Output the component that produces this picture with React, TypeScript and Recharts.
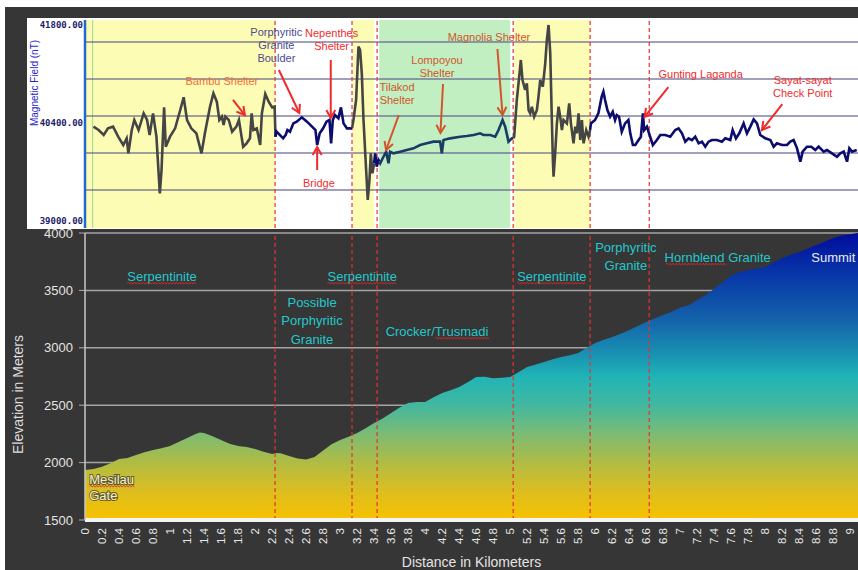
import React from 'react';
import {
  LineChart, Line, AreaChart, Area, XAxis, YAxis, CartesianGrid,
  ReferenceArea, ReferenceLine, ReferenceDot,
} from 'recharts';

const FONT = '"Liberation Sans", Arial, sans-serif';

// ---------- Elevation profile ----------
const distKm = [0, 0.1, 0.2, 0.3, 0.4, 0.5, 0.6, 0.7, 0.8, 0.9, 1.0, 1.1, 1.2, 1.3, 1.35, 1.4, 1.5, 1.6, 1.7, 1.8, 1.9, 2.0, 2.1, 2.2, 2.25, 2.3, 2.4, 2.5, 2.6, 2.7, 2.8, 2.9, 3.0, 3.1, 3.2, 3.3, 3.4, 3.5, 3.6, 3.7, 3.8, 3.9, 4.0, 4.1, 4.2, 4.3, 4.4, 4.5, 4.6, 4.7, 4.8, 4.9, 5.0, 5.1, 5.2, 5.3, 5.4, 5.5, 5.6, 5.7, 5.8, 5.9, 6.0, 6.1, 6.2, 6.3, 6.4, 6.5, 6.6, 6.7, 6.8, 6.9, 7.0, 7.1, 7.2, 7.3, 7.4, 7.5, 7.6, 7.7, 7.8, 7.9, 8.0, 8.1, 8.2, 8.3, 8.4, 8.5, 8.6, 8.7, 8.8, 8.9, 9.0, 9.09];
const elevM = [1935, 1945, 1964, 1995, 2031, 2040, 2066, 2090, 2110, 2125, 2145, 2180, 2214, 2250, 2262, 2258, 2230, 2197, 2165, 2145, 2135, 2118, 2095, 2075, 2084, 2082, 2057, 2035, 2028, 2049, 2105, 2160, 2197, 2225, 2258, 2300, 2345, 2385, 2432, 2480, 2519, 2528, 2528, 2570, 2606, 2630, 2658, 2700, 2745, 2748, 2735, 2740, 2745, 2790, 2832, 2855, 2876, 2900, 2920, 2935, 2954, 3000, 3041, 3070, 3094, 3122, 3154, 3190, 3224, 3255, 3285, 3315, 3350, 3370, 3416, 3460, 3515, 3570, 3630, 3660, 3677, 3690, 3704, 3745, 3782, 3810, 3834, 3865, 3895, 3925, 3956, 3978, 3990, 4000];
const distTicks = [0, 0.2, 0.4, 0.6, 0.8, 1, 1.2, 1.4, 1.6, 1.8, 2, 2.2, 2.4, 2.6, 2.8, 3, 3.2, 3.4, 3.6, 3.8, 4, 4.2, 4.4, 4.6, 4.8, 5, 5.2, 5.4, 5.6, 5.8, 6, 6.2, 6.4, 6.6, 6.8, 7, 7.2, 7.4, 7.6, 7.8, 8, 8.2, 8.4, 8.6, 8.8, 9];
const elevTicks = [1500, 2000, 2500, 3000, 3500, 4000];

// ---------- Magnetic field trace (km, nT), split by zone ----------
const magSerp1: [number, number][] = [[0.10, 40347], [0.16, 40299], [0.22, 40228], [0.27, 40323], [0.33, 40347], [0.39, 40204], [0.45, 40085], [0.49, 40180], [0.51, 39966], [0.55, 40299], [0.58, 40442], [0.63, 40299], [0.69, 40537], [0.73, 40442], [0.76, 40228], [0.80, 40537], [0.84, 40204], [0.88, 39395], [0.90, 39728], [0.93, 40623], [0.95, 40061], [1.00, 40204], [1.06, 40323], [1.12, 40585], [1.16, 40766], [1.20, 40442], [1.25, 40323], [1.31, 40252], [1.37, 39966], [1.41, 40252], [1.47, 40632], [1.51, 40823], [1.55, 40704], [1.58, 40442], [1.61, 40490], [1.63, 40371], [1.65, 40490], [1.69, 40442], [1.73, 40275], [1.78, 40347], [1.81, 40442], [1.86, 40061], [1.90, 40109], [1.94, 40180], [1.96, 40537], [1.98, 40299], [2.02, 40323], [2.06, 40085], [2.08, 40537], [2.12, 40813], [2.16, 40704], [2.20, 40623], [2.23, 40632], [2.24, 40204]];
const magGranite1: [number, number][] = [[2.24, 40204], [2.25, 40280], [2.29, 40230], [2.33, 40180], [2.36, 40230], [2.38, 40299], [2.41, 40275], [2.45, 40394], [2.49, 40418], [2.55, 40480], [2.61, 40418], [2.67, 40347], [2.71, 40299], [2.73, 40085], [2.76, 40252], [2.80, 40323], [2.84, 40418], [2.875, 40442], [2.894, 40109], [2.914, 40442], [2.94, 40513], [2.98, 40466], [3.01, 40623], [3.04, 40394], [3.08, 40323], [3.14, 40323]];
const magSerp2: [number, number][] = [[3.14, 40323], [3.157, 40442], [3.188, 40728], [3.216, 41489], [3.235, 41442], [3.255, 41108], [3.275, 40442], [3.306, 39728], [3.325, 39300], [3.345, 39585], [3.361, 39966], [3.38, 39680], [3.40, 39823]];
const magGap: [number, number][] = [[3.40, 39823], [3.412, 39966], [3.431, 39776], [3.451, 39871], [3.46, 39850]];
const magCrocker: [number, number][] = [[3.46, 39850], [3.471, 39823], [3.51, 39918], [3.541, 39990], [3.569, 39823], [3.588, 39990], [3.627, 39966], [3.706, 39990], [3.784, 40014], [3.863, 40037], [3.941, 40085], [4.02, 40109], [4.098, 40133], [4.157, 40133], [4.176, 40133], [4.196, 39966], [4.216, 40156], [4.294, 40180], [4.412, 40204], [4.49, 40213], [4.569, 40228], [4.647, 40252], [4.686, 40228], [4.765, 40228], [4.824, 40204], [4.863, 40299], [4.91, 40442], [4.941, 40347], [4.98, 40133], [5.02, 40180], [5.035, 40180]];
const magSerp3: [number, number][] = [[5.035, 40180], [5.047, 40204], [5.078, 40728], [5.11, 41108], [5.125, 41299], [5.145, 41013], [5.176, 40870], [5.196, 40966], [5.216, 40585], [5.235, 40537], [5.255, 40632], [5.282, 40490], [5.314, 40585], [5.333, 40775], [5.353, 41013], [5.384, 40918], [5.412, 41251], [5.431, 41584], [5.451, 41799], [5.471, 41394], [5.49, 40442], [5.502, 39871], [5.51, 39633], [5.529, 39966], [5.549, 40394], [5.569, 40632], [5.588, 40490], [5.608, 40299], [5.627, 40442], [5.667, 40394], [5.694, 40680], [5.714, 40394], [5.745, 40109], [5.765, 40347], [5.784, 40252], [5.804, 40537], [5.824, 40156], [5.843, 40442], [5.863, 40109], [5.894, 40299], [5.922, 40204], [5.94, 40300]];
const magGranite2: [number, number][] = [[5.94, 40300], [5.949, 40394], [5.998, 40442], [6.037, 40537], [6.076, 40775], [6.096, 40847], [6.116, 40728], [6.143, 40585], [6.175, 40490], [6.206, 40561], [6.233, 40442], [6.253, 40513], [6.28, 40490], [6.312, 40275], [6.351, 40394], [6.39, 40442], [6.412, 40252], [6.443, 40085], [6.471, 40085], [6.51, 40156], [6.537, 40204], [6.561, 40537], [6.576, 40299], [6.608, 40347], [6.639, 40228], [6.678, 40085], [6.725, 40156], [6.765, 40228], [6.824, 40228], [6.882, 40204], [6.941, 40299], [6.98, 40323], [7.02, 40252], [7.059, 40133], [7.098, 40180], [7.137, 40156], [7.176, 40204], [7.216, 40109], [7.255, 40133], [7.294, 40061], [7.333, 40133], [7.373, 40156], [7.431, 40156], [7.49, 40133], [7.529, 40180], [7.588, 40156], [7.616, 40299], [7.655, 40180], [7.694, 40252], [7.745, 40394], [7.784, 40252], [7.824, 40347], [7.863, 40451], [7.902, 40394], [7.941, 40228], [8.0, 40180], [8.059, 40156], [8.098, 40061], [8.137, 40109], [8.196, 40085], [8.255, 40085], [8.294, 40133], [8.333, 40156], [8.373, 40037], [8.412, 39847], [8.439, 39990], [8.49, 40061], [8.541, 40061], [8.588, 40014], [8.627, 40061], [8.686, 39990], [8.725, 40014], [8.784, 39966], [8.843, 39918], [8.882, 39966], [8.922, 39990], [8.961, 39847], [8.988, 40037], [9.02, 39990], [9.075, 40014]];
const magTicks = [39000, 40400, 41800];
const magGrid = [41556, 41027, 40499, 39971, 39442];

// zones / boundaries (km)
const boundaryKm = [2.235, 3.14, 3.435, 5.035, 5.94, 6.635];
const yellowZones: [number, number][] = [[0, 2.235], [3.15, 3.40], [5.05, 5.94]];
const greenZones: [number, number][] = [[3.46, 5.0]];

const toPts = (s: [number, number][]) => s.map(([km, nT]) => ({ km, nT }));
const elevData = distKm.map((km, i) => ({ km, elev: elevM[i] }));

const arrowShape = (color: string) => (p: any) => {
  const { x1, y1, x2, y2 } = p;
  const ang = Math.atan2(y2 - y1, x2 - x1);
  const L = 8, W = 4.5;
  const bx = x2 - L * Math.cos(ang), by = y2 - L * Math.sin(ang);
  const px = -Math.sin(ang) * W, py = Math.cos(ang) * W;
  return (
    <g>
      <line x1={x1} y1={y1} x2={x2} y2={y2} stroke={color} strokeWidth={2} />
      <polyline points={`${bx + px},${by + py} ${x2},${y2} ${bx - px},${by - py}`} fill="none" stroke={color} strokeWidth={2} />
    </g>
  );
};

// red spell-check squiggle from x0 to x1 at y
const squigglePath = (x0: number, x1: number, y: number) => {
  let d = `M${x0},${y}`;
  let up = true;
  for (let x = x0 + 1.5; x <= x1; x += 1.5) {
    d += ` L${x},${y + (up ? -1 : 1)}`;
    up = !up;
  }
  return d;
};

const textShape = (lines: string[], color: string, size: number, lh: number, anchor: string = 'middle', extra: any = {}, sq?: [number, number]) => (p: any) => (
  <g>
    <text x={p.cx} y={p.cy} fill={color} fontSize={size} fontFamily={FONT} textAnchor={anchor} dominantBaseline="central" {...extra}>
      {lines.map((l, i) => (
        <tspan key={i} x={p.cx} dy={i === 0 ? 0 : lh}>{l}</tspan>
      ))}
    </text>
    {sq && <path d={squigglePath(p.cx + sq[0], p.cx + sq[1], p.cy + size * 0.55)} fill="none" stroke="#e02828" strokeWidth={0.8} />}
  </g>
);

const MagTick = (p: any) => (
  <text x={p.x + 6} y={p.y} textAnchor="end" dominantBaseline="central" fontFamily='"DejaVu Sans Mono", monospace' fontWeight="bold" fontSize={9} fill="#1c1c6a">
    {`${p.payload.value}.00`}
  </text>
);

const DistTick = (p: any) => (
  <text x={p.x} y={p.y} transform={`rotate(-90 ${p.x} ${p.y})`} textAnchor="end" dominantBaseline="central" fill="#e8e8e8" fontSize={11.5} fontFamily={FONT}>
    {String(p.payload.value)}
  </text>
);

const RED = '#ef2b2b';
const ORANGE = '#d2552b';
const CYAN = '#22c8cc';

export default function App() {
  return (
    <div style={{ position: 'absolute', left: 0, top: 0, width: 858, height: 570, background: '#fff', overflow: 'hidden' }}>
      <div style={{ position: 'absolute', left: 5, top: 7, width: 853, height: 563, background: '#363636' }} />
      <div style={{ position: 'absolute', left: 27, top: 18, width: 831, height: 211, background: '#fff' }} />

      {/* Elevation profile */}
      <div style={{ position: 'absolute', left: 0, top: 0 }}>
        <AreaChart width={858} height={570} data={elevData} margin={{ top: 233, right: 0, bottom: 2, left: 5 }}>
          <defs>
            <linearGradient id="elevGrad" x1="0" y1="0" x2="0" y2="1">
              <stop offset="0" stopColor="#000c9c" />
              <stop offset="0.15" stopColor="#0838a8" />
              <stop offset="0.3" stopColor="#1462aa" />
              <stop offset="0.42" stopColor="#1990b2" />
              <stop offset="0.5" stopColor="#20b4b6" />
              <stop offset="0.6" stopColor="#42b8a0" />
              <stop offset="0.7" stopColor="#7cbb74" />
              <stop offset="0.8" stopColor="#b0bc44" />
              <stop offset="0.9" stopColor="#dcbe20" />
              <stop offset="1" stopColor="#f8c200" />
            </linearGradient>
          </defs>
          <CartesianGrid vertical={false} stroke="#a4a4a4" strokeWidth={1.5} />
          <XAxis
            dataKey="km" type="number" domain={[0, 9.09]} allowDataOverflow ticks={distTicks} interval={0}
            tick={<DistTick />} tickLine={false} height={48}
            axisLine={{ stroke: '#f4f4f4', strokeWidth: 4 }}
            label={{ value: 'Distance in Kilometers', position: 'insideBottom', offset: 1, fill: '#e4e4e4', fontSize: 14, fontFamily: FONT }}
          />
          <YAxis
            type="number" domain={[1500, 4000]} ticks={elevTicks} width={80}
            tick={{ fill: '#e4e4e4', fontSize: 13, fontFamily: FONT }} tickSize={6} tickMargin={6}
            tickLine={{ stroke: '#b0b0b0' }} axisLine={{ stroke: '#c8c8c8', strokeWidth: 1.5 }}
            label={{
              content: (p: any) => (
                <text x={p.viewBox.x + 13} y={p.viewBox.y + p.viewBox.height / 2 + 18} transform={`rotate(-90 ${p.viewBox.x + 13} ${p.viewBox.y + p.viewBox.height / 2 + 18})`} textAnchor="middle" dominantBaseline="central" fill="#dcdcdc" fontSize={14} fontFamily={FONT}>
                  Elevation in Meters
                </text>
              ),
            }}
          />
          <Area type="linear" dataKey="elev" stroke="none" fill="url(#elevGrad)" fillOpacity={1} baseValue={1500} isAnimationActive={false} />
          {boundaryKm.map((b) => (
            <ReferenceLine key={b} x={b} stroke="#e83030" strokeDasharray="4 3" strokeWidth={1.2} />
          ))}
          <ReferenceDot x={0.906} y={3625} r={0} shape={textShape(['Serpentinite'], CYAN, 13, 18, 'middle', {}, [-35, 35])} />
          <ReferenceDot x={3.26} y={3625} r={0} shape={textShape(['Serpentinite'], CYAN, 13, 18, 'middle', {}, [-35, 35])} />
          <ReferenceDot x={5.49} y={3625} r={0} shape={textShape(['Serpentinite'], CYAN, 13, 18, 'middle', {}, [-35, 35])} />
          <ReferenceDot x={2.67} y={3399} r={0} shape={textShape(['Possible', 'Porphyritic', 'Granite'], CYAN, 13, 18.5)} />
          <ReferenceDot x={4.14} y={3146} r={0} shape={textShape(['Crocker/Trusmadi'], CYAN, 13, 18, 'middle', {}, [-2, 52])} />
          <ReferenceDot x={6.36} y={3878} r={0} shape={textShape(['Porphyritic', 'Granite'], CYAN, 13, 18)} />
          <ReferenceDot x={7.44} y={3791} r={0} shape={textShape(['Hornblend Granite'], CYAN, 13, 18, 'middle', {}, [-52, 8])} />
          <ReferenceDot x={8.8} y={3791} r={0} shape={textShape(['Summit'], '#ececf4', 13, 18)} />
          <ReferenceDot x={0.05} y={1857} r={0} shape={textShape(['Mesilau', 'Gate'], '#f6eec4', 13, 15.5, 'start', { stroke: 'rgba(50,50,50,0.7)', strokeWidth: 2, paintOrder: 'stroke' }, [0, 46])} />
        </AreaChart>
      </div>

      {/* Magnetic field panel */}
      <div style={{ position: 'absolute', left: 0, top: 0 }}>
        <LineChart width={858} height={228} margin={{ top: 20, right: 0, bottom: 0, left: 27 }}>
          <XAxis dataKey="km" type="number" domain={[0, 9.09]} allowDataOverflow hide />
          <YAxis
            type="number" domain={[38900, 41870]} ticks={magTicks} width={58} interval={0}
            tick={<MagTick />} tickLine={false} axisLine={{ stroke: '#1e6ad0', strokeWidth: 2.5 }}
            label={{
              content: (p: any) => (
                <text x={p.viewBox.x + 7} y={p.viewBox.y + 63} transform={`rotate(-90 ${p.viewBox.x + 7} ${p.viewBox.y + 63})`} textAnchor="middle" dominantBaseline="central" fill="#2626c8" fontSize={10} fontFamily={FONT}>
                  Magnetic Field (nT)
                </text>
              ),
            }}
          />
          {yellowZones.map(([a, b]) => (
            <ReferenceArea key={`y${a}`} x1={a} x2={b} fill="#fdfcb4" fillOpacity={1} stroke="none" />
          ))}
          {greenZones.map(([a, b]) => (
            <ReferenceArea key={`g${a}`} x1={a} x2={b} fill="#c2efc2" fillOpacity={1} stroke="none" />
          ))}
          <ReferenceLine x={0.09} stroke="#9fd69f" strokeWidth={1} />
          {magGrid.map((g) => (
            <ReferenceLine key={g} y={g} stroke="#55558a" strokeOpacity={0.75} strokeWidth={1.5} />
          ))}
          {boundaryKm.map((b) => (
            <ReferenceLine key={`b${b}`} x={b} stroke="#e83030" strokeDasharray="4 3" strokeWidth={1.2} />
          ))}
          <Line data={toPts(magSerp1)} dataKey="nT" stroke="#454545" strokeWidth={2.6} dot={false} type="linear" isAnimationActive={false} />
          <Line data={toPts(magGranite1)} dataKey="nT" stroke="#0c0c6e" strokeWidth={2.6} dot={false} type="linear" isAnimationActive={false} />
          <Line data={toPts(magSerp2)} dataKey="nT" stroke="#454545" strokeWidth={2.6} dot={false} type="linear" isAnimationActive={false} />
          <Line data={toPts(magGap)} dataKey="nT" stroke="#0c0c6e" strokeWidth={2.6} dot={false} type="linear" isAnimationActive={false} />
          <Line data={toPts(magCrocker)} dataKey="nT" stroke="#183c64" strokeWidth={2.6} dot={false} type="linear" isAnimationActive={false} />
          <Line data={toPts(magSerp3)} dataKey="nT" stroke="#454545" strokeWidth={2.6} dot={false} type="linear" isAnimationActive={false} />
          <Line data={toPts(magGranite2)} dataKey="nT" stroke="#0c0c6e" strokeWidth={2.6} dot={false} type="linear" isAnimationActive={false} />

          {/* annotations */}
          <ReferenceDot x={1.61} y={41000} r={0} shape={textShape(['Bambu Shelter'], '#f36b3b', 11, 13)} />
          <ReferenceLine segment={[{ x: 1.74, y: 40728 }, { x: 1.88, y: 40513 }]} shape={arrowShape(RED)} />
          <ReferenceDot x={2.25} y={41699} r={0} shape={textShape(['Porphyritic', 'Granite', 'Boulder'], '#4b4b92', 11, 13)} />
          <ReferenceLine segment={[{ x: 2.28, y: 41156 }, { x: 2.52, y: 40542 }]} shape={arrowShape(RED)} />
          <ReferenceDot x={2.9} y={41685} r={0} shape={textShape(['Nepenthes', 'Shelter'], RED, 11, 13)} />
          <ReferenceLine segment={[{ x: 2.89, y: 41299 }, { x: 2.89, y: 40470 }]} shape={arrowShape(RED)} />
          <ReferenceDot x={2.75} y={39542} r={0} shape={textShape(['Bridge'], RED, 11, 13)} />
          <ReferenceLine segment={[{ x: 2.73, y: 39728 }, { x: 2.73, y: 40056 }]} shape={arrowShape(RED)} />
          <ReferenceDot x={3.67} y={40913} r={0} shape={textShape(['Tilakod', 'Shelter'], ORANGE, 11, 13)} />
          <ReferenceLine segment={[{ x: 3.69, y: 40513 }, { x: 3.54, y: 40014 }]} shape={arrowShape(ORANGE)} />
          <ReferenceDot x={4.14} y={41299} r={0} shape={textShape(['Lompoyou', 'Shelter'], ORANGE, 11, 13)} />
          <ReferenceLine segment={[{ x: 4.21, y: 40956 }, { x: 4.18, y: 40256 }]} shape={arrowShape(ORANGE)} />
          <ReferenceDot x={4.75} y={41628} r={0} shape={textShape(['Magnolia Shelter'], ORANGE, 11, 13)} />
          <ReferenceLine segment={[{ x: 4.85, y: 41456 }, { x: 4.91, y: 40513 }]} shape={arrowShape(ORANGE)} />
          <ReferenceDot x={7.24} y={41099} r={0} shape={textShape(['Gunting Laganda'], RED, 11, 13)} />
          <ReferenceLine segment={[{ x: 6.86, y: 40913 }, { x: 6.58, y: 40485 }]} shape={arrowShape(RED)} />
          <ReferenceDot x={8.44} y={41013} r={0} shape={textShape(['Sayat-sayat', 'Check Point'], RED, 11, 13)} />
          <ReferenceLine segment={[{ x: 8.2, y: 40670 }, { x: 7.96, y: 40299 }]} shape={arrowShape(RED)} />
        </LineChart>
      </div>
    </div>
  );
}
